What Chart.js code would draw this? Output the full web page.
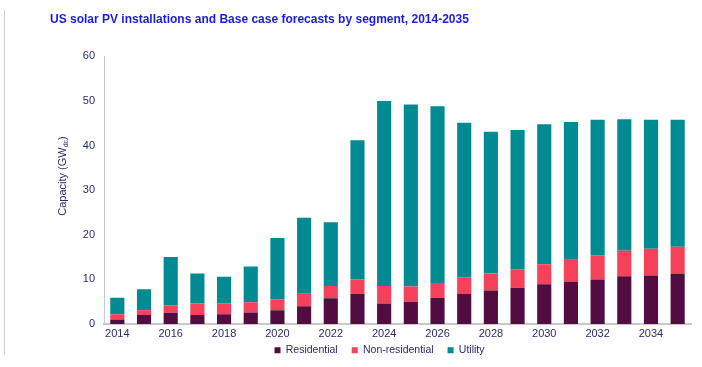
<!DOCTYPE html>
<html>
<head>
<meta charset="utf-8">
<script src="https://cdn.jsdelivr.net/npm/chart.js@4/dist/chart.umd.min.js"></script>
<style>
html,body{margin:0;padding:0;background:#fff;}
#wrap{position:relative;width:702px;height:367px;}
#edge{position:absolute;left:4px;top:10px;width:0;height:345px;border-left:1px solid #d0d0d0;}
canvas{position:absolute;left:0;top:0;}
</style>
</head>
<body>
<div id="wrap"><div id="edge"></div><canvas id="c" width="702" height="367"></canvas></div>
<script>
const years = ["2014","2015","2016","2017","2018","2019","2020","2021","2022","2023","2024","2025","2026","2027","2028","2029","2030","2031","2032","2033","2034","2035"];
const residential    = [1.0, 2.0, 2.5, 2.0, 2.2, 2.6, 3.1, 4.0, 5.8, 6.7, 4.6, 5.0, 5.9, 6.7, 7.5, 8.1, 8.9, 9.4, 10.0, 10.7, 10.9, 11.2];
const nonResidential = [1.2, 1.1, 1.7, 2.6, 2.4, 2.3, 2.4, 2.8, 2.7, 3.3, 3.9, 3.4, 3.3, 3.7, 3.8, 4.2, 4.5, 5.0, 5.4, 5.7, 6.0, 6.1];
const utility        = [3.7, 4.7, 10.8, 6.7, 6.0, 8.0, 13.8, 17.0, 14.3, 31.2, 41.5, 40.8, 39.6, 34.7, 31.8, 31.2, 31.4, 30.9, 30.4, 29.5, 28.9, 28.5];
const yTicks = [0, 10, 20, 30, 40, 50, 60];

const navy = '#2b2b6e';
const font = "'Liberation Sans', Arial, sans-serif";

const yTitlePlugin = {
  id: 'yTitle',
  afterLayout(chart) {
    const lg = chart.legend;
    if (lg) { lg.left += 9; lg.right += 9; lg.top -= 10; lg.bottom -= 10; }
  },
  afterDraw(chart) {
    const ctx = chart.ctx;
    ctx.save();
    ctx.translate(63, 176);
    ctx.rotate(-Math.PI / 2);
    ctx.fillStyle = navy;
    ctx.textBaseline = 'middle';
    const main = 'Capacity (GW';
    ctx.font = "11px " + font;
    const w1 = ctx.measureText(main).width;
    ctx.font = "7px " + font;
    const w2 = ctx.measureText('dc').width;
    ctx.font = "11px " + font;
    const w3 = ctx.measureText(')').width;
    const total = w1 + w2 + w3;
    let x = -total / 2;
    ctx.textAlign = 'left';
    ctx.fillText(main, x, 0);
    x += w1;
    ctx.font = "7px " + font;
    ctx.fillText('dc', x, 3);
    x += w2;
    ctx.font = "11px " + font;
    ctx.fillText(')', x, 0);
    ctx.restore();
  }
};

new Chart(document.getElementById('c'), {
  type: 'bar',
  data: {
    labels: years,
    datasets: [
      {label: 'Residential', data: residential, backgroundColor: '#520c3f'},
      {label: 'Non-residential', data: nonResidential, backgroundColor: '#f6415a'},
      {label: 'Utility', data: utility, backgroundColor: '#008b92'}
    ]
  },
  options: {
    responsive: false,
    animation: false,
    devicePixelRatio: 1,
    layout: {padding: {left: 50, right: 11, top: 0, bottom: -8.5}},
    datasets: {bar: {categoryPercentage: 1, barPercentage: 0.53}},
    plugins: {
      title: {
        display: true,
        text: 'US solar PV installations and Base case forecasts by segment, 2014-2035',
        align: 'start',
        color: '#1a1aee',
        font: {family: font, size: 12, weight: 'bold'},
        padding: {top: 12, bottom: 30}
      },
      legend: {
        position: 'bottom',
        labels: {
          color: navy,
          font: {family: font, size: 10.5},
          boxWidth: 6, boxHeight: 6,
          padding: 14
        }
      },
      tooltip: {enabled: false}
    },
    scales: {
      x: {
        stacked: true,
        afterFit: function(s) { s.height = 17; },
        grid: {display: false, drawTicks: false},
        border: {color: '#c8c8c8', width: 2},
        ticks: {
          color: navy, font: {family: font, size: 11}, padding: 3,
          autoSkip: false, maxRotation: 0,
          callback: function(v, i) { return i % 2 === 0 ? years[i] : ''; }
        }
      },
      y: {
        stacked: true,
        min: 0, max: 60,
        afterBuildTicks: function(s) { s.ticks = yTicks.map(v => ({value: v})); },
        afterFit: function(s) { s.width = 54; },
        grid: {display: false, drawTicks: false},
        border: {color: '#c8c8c8', width: 1},
        ticks: {color: navy, font: {family: font, size: 11}, padding: 9}
      }
    }
  },
  plugins: [yTitlePlugin]
});
</script>
</body>
</html>
